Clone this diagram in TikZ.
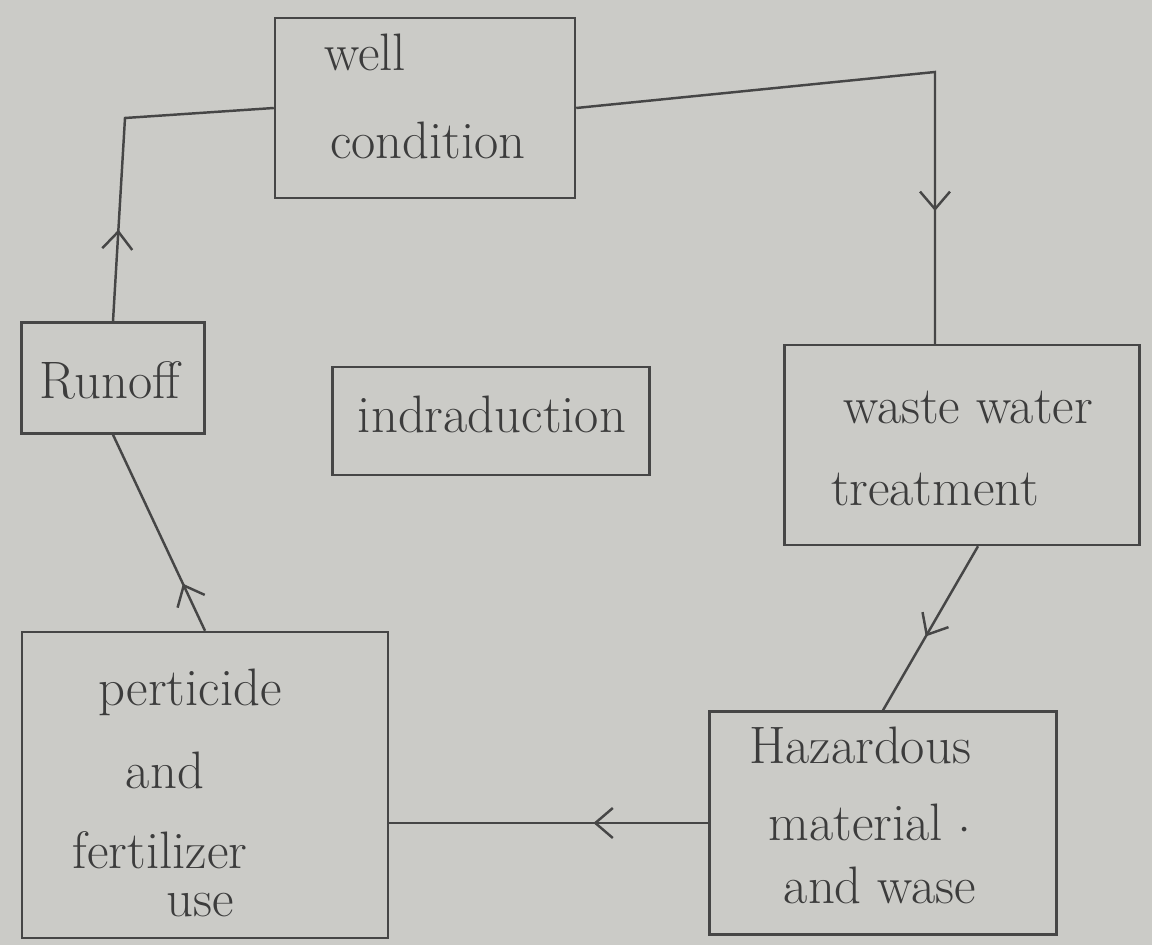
\documentclass[tikz,border=0pt]{standalone}
\usetikzlibrary{arrows.meta,decorations.markings,calc}
\definecolor{paper}{RGB}{203,203,199}
\definecolor{ink}{RGB}{70,70,70}
\definecolor{txt}{RGB}{60,60,60}
\tikzset{
  box/.style={draw=ink, line width=1.4pt, rectangle, inner sep=0pt},
  lbl/.style={text=txt, font=\fontsize{30}{36}\selectfont, inner sep=0pt, anchor=center},
  conn/.style={draw=ink, line width=1.4pt},
  midarrow/.style={postaction={decorate}, decoration={markings,
      mark=at position #1 with {\arrow[ink, line width=1.4pt]{Straight Barb[length=0.35cm, width=0.6cm]}}}}
}
\begin{document}
\begin{tikzpicture}[x=0.02cm, y=-0.02cm]
\fill[paper] (0,0) rectangle (1152,945);
\useasboundingbox (0,0) rectangle (1152,945);

% boxes
\node[box, minimum width=300*0.02cm, minimum height=180*0.02cm] (well) at (425,108) {};
\node[box, minimum width=183*0.02cm, minimum height=111*0.02cm] (runoff) at (113,378) {};
\node[box, minimum width=317*0.02cm, minimum height=108*0.02cm] (intro) at (491,421) {};
\node[box, minimum width=355*0.02cm, minimum height=200*0.02cm] (waste) at (962,445) {};
\node[box, minimum width=366*0.02cm, minimum height=306*0.02cm] (pest) at (205,785) {};
\node[box, minimum width=347*0.02cm, minimum height=223*0.02cm] (haz) at (883,823) {};

% texts
\node[lbl] (wellA) at (365,52) {well};
\node[lbl] (wellB) at (428,140) {condition};
\node[lbl] (runoffT) at (110,380) {Runoff};
\node[lbl] (introT) at (492,414) {indraduction};
\node[lbl] (wasteA) at (968,408) {waste water};
\node[lbl] (wasteB) at (935,490) {treatment};
\node[lbl] (pestA) at (190,692) {perticide};
\node[lbl] (pestB) at (165,770) {and};
\node[lbl] (pestC) at (160,850) {fertilizer};
\node[lbl] (pestD) at (200,905) {use};
\node[lbl] (hazA) at (860,745) {Hazardous};
\node[lbl] (hazB) at (870,822) {material $\cdot$};
\node[lbl] (hazC) at (880,885) {and wase};

% connectors
\coordinate (c1) at (935,72);
\coordinate (c2) at (125,118);
\draw[conn, midarrow=0.79] (well.east) -- (c1) -- (waste.north -| c1);
\draw[conn, midarrow=0.55] ($(waste.south)+(16,0)$) -- (haz.north);
\draw[conn, midarrow=0.36] (haz.west) -- (haz.west -| pest.east);
\draw[conn, midarrow=0.24] (pest.north) -- (runoff.south);
\draw[conn, midarrow=0.26] (runoff.north) -- (c2) -- (well.west);
\end{tikzpicture}
\end{document}
